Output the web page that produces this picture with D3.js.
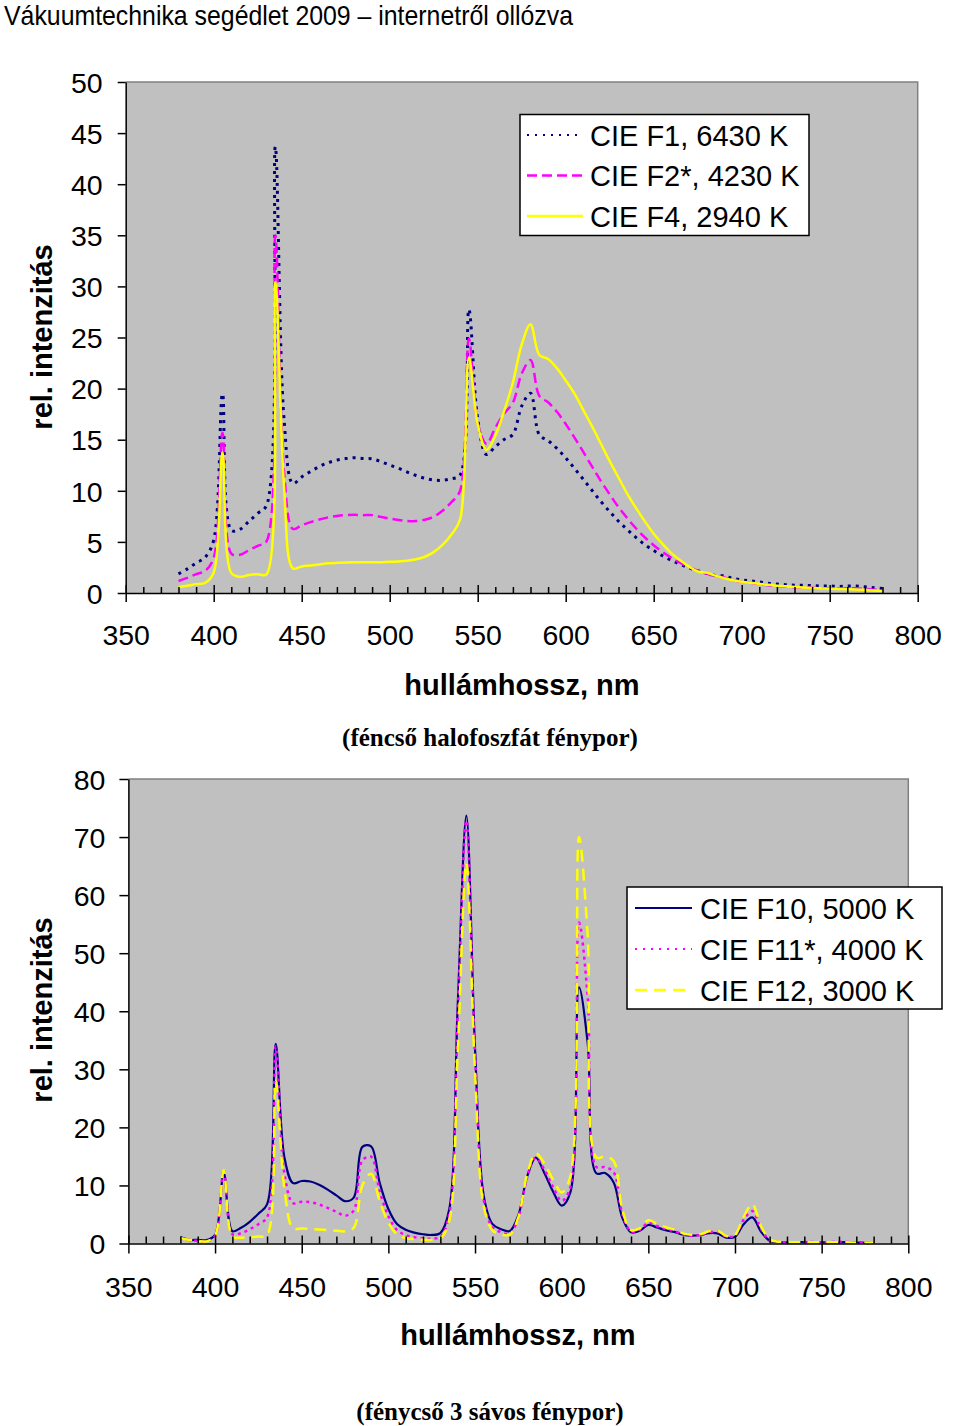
<!DOCTYPE html>
<html><head><meta charset="utf-8">
<script src="https://cdn.jsdelivr.net/npm/d3@7"></script>
<style>body{margin:0;background:#fff}svg{display:block}</style>
</head><body>
<svg id="c" width="960" height="1426"></svg>
<script>
// ---------- DATA ----------
const wavelengths = [
 380,385,390,395,400,405,410,415,420,425,
 430,435,440,445,450,455,460,465,470,475,
 480,485,490,495,500,505,510,515,520,525,
 530,535,540,545,550,555,560,565,570,575,
 580,585,590,595,600,605,610,615,620,625,
 630,635,640,645,650,655,660,665,670,675,
 680,685,690,695,700,705,710,715,720,725,
 730,735,740,745,750,755,760,765,770,775,
 780];
const xTickLabels = [350,400,450,500,550,600,650,700,750,800];
const yTicks1 = [0,5,10,15,20,25,30,35,40,45,50];
const yTicks2 = [0,10,20,30,40,50,60,70,80];

const names1 = ["CIE F1, 6430 K","CIE F2*, 4230 K","CIE F4, 2940 K"];
const f1 = [
 1.87,2.36,2.94,3.47,5.17,19.49,6.13,6.24,7.01,7.79,
 8.56,43.67,16.94,10.72,11.35,11.89,12.37,12.75,13.00,13.15,
 13.23,13.17,13.13,12.85,12.52,12.20,11.83,11.50,11.22,11.05,
 11.03,11.18,11.53,27.74,17.05,13.55,14.33,15.01,15.52,18.29,
 19.55,15.48,14.91,14.15,13.22,12.19,11.12,10.03,8.95,7.96,
 7.02,6.20,5.42,4.73,4.15,3.64,3.20,2.81,2.47,2.18,
 1.93,1.72,1.67,1.43,1.29,1.19,1.08,0.96,0.88,0.81,
 0.77,0.75,0.73,0.68,0.69,0.64,0.68,0.69,0.61,0.52,
 0.43];
const f2 = [
 1.18,1.48,1.84,2.15,3.44,15.69,3.85,3.74,4.19,4.62,
 5.06,34.98,11.81,6.27,6.63,6.93,7.19,7.40,7.54,7.62,
 7.65,7.62,7.62,7.45,7.28,7.15,7.05,7.04,7.16,7.47,
 8.04,8.88,10.01,24.88,16.64,14.59,16.16,17.56,18.62,21.47,
 22.79,19.29,18.66,17.73,16.54,15.21,13.80,12.36,10.95,9.65,
 8.40,7.32,6.31,5.43,4.68,4.02,3.45,2.96,2.55,2.19,
 1.89,1.64,1.53,1.27,1.10,0.99,0.88,0.76,0.68,0.61,
 0.56,0.54,0.51,0.47,0.47,0.43,0.46,0.47,0.40,0.33,
 0.27];
const f4 = [
 0.57,0.70,0.87,0.98,2.01,13.75,1.95,1.59,1.76,1.84,
 1.82,30.4,10.3,2.4,2.6,2.7,2.8,2.9,2.95,2.98,
 3.0,3.0,3.0,3.02,3.05,3.08,3.15,3.3,3.55,4.0,
 4.7,5.7,7.2,23.0,16.5,14.0,15.4,17.8,20.6,24.3,
 26.3,23.3,22.9,22.0,20.8,19.5,17.9,16.3,14.6,12.9,
 11.3,9.7,8.3,7.0,5.8,4.8,3.9,3.2,2.6,2.1,
 2.0,1.7,1.45,1.25,1.1,1.0,0.9,0.8,0.72,0.65,
 0.58,0.53,0.49,0.45,0.42,0.39,0.37,0.35,0.3,0.25,
 0.2];

const names2 = ["CIE F10, 5000 K","CIE F11*, 4000 K","CIE F12, 3000 K"];
const f10 = [
 1.11,0.63,0.62,0.57,1.48,12.16,2.12,2.70,3.74,5.14,
 6.75,34.39,14.86,10.40,10.76,10.67,10.11,9.27,8.29,7.29,
 7.91,16.64,16.73,10.44,5.94,3.34,2.35,1.88,1.59,1.47,
 1.80,5.71,40.98,73.69,33.61,8.24,3.38,2.47,2.14,4.86,
 11.45,14.79,12.16,8.97,6.52,8.81,44.12,34.55,12.09,12.15,
 10.52,4.43,1.95,2.19,3.19,2.77,2.29,2.00,1.52,1.35,
 1.47,1.79,1.74,1.02,1.14,3.32,4.49,2.05,0.49,0.24,
 0.21,0.21,0.24,0.24,0.21,0.17,0.21,0.22,0.17,0.12,
 0.09];
const f11 = [
 0.91,0.63,0.46,0.37,1.29,12.68,1.59,1.79,2.46,3.33,
 4.49,33.94,12.13,6.95,7.19,7.12,6.72,6.13,5.46,4.79,
 5.66,14.29,14.96,8.97,4.72,2.33,1.47,1.10,0.89,0.83,
 1.18,4.90,39.59,72.84,32.61,7.52,2.83,1.96,1.67,4.43,
 11.28,14.76,12.73,9.74,7.33,9.72,55.27,42.58,13.18,13.16,
 12.26,5.11,2.07,2.34,3.58,3.01,2.48,2.14,1.54,1.33,
 1.46,1.94,2.00,1.20,1.35,4.10,5.58,2.51,0.57,0.27,
 0.23,0.21,0.24,0.24,0.20,0.24,0.32,0.26,0.16,0.12,
 0.09];
const f12 = [
 0.96,0.64,0.45,0.37,1.35,12.6,1.2,1.0,1.1,1.2,
 1.4,28.0,9.5,2.6,2.6,2.5,2.4,2.3,2.2,2.1,
 2.7,10.0,12.0,7.3,3.6,1.6,0.95,0.75,0.65,0.6,
 0.9,3.8,33.0,65.5,29.5,6.5,2.3,1.6,1.5,4.5,
 11.8,15.5,13.8,11.0,8.8,11.5,70.0,53.0,14.8,15.0,
 14.2,5.8,2.3,2.6,4.0,3.4,2.8,2.4,1.75,1.5,
 1.6,2.1,2.2,1.3,1.5,4.6,6.8,3.0,0.7,0.3,
 0.25,0.22,0.22,0.22,0.2,0.2,0.22,0.2,0.15,0.12,
 0.1];

// ---------- DRAW ----------
const svg = d3.select("#c");
const SANS = "'Liberation Sans', Arial, sans-serif";
const SERIF = "'Liberation Serif', 'Times New Roman', serif";

svg.append("text").attr("x",4).attr("y",25)
  .attr("font-family","'Liberation Sans Narrow', 'Liberation Sans', Arial, sans-serif")
  .attr("font-size",28).attr("textLength",569).attr("lengthAdjust","spacingAndGlyphs")
  .text("Vákuumtechnika segédlet 2009 – internetről ollózva");

function drawChart(cfg){
  const x = d3.scaleLinear().domain([350,800]).range([cfg.x0,cfg.x1]);
  const y = d3.scaleLinear().domain([0,cfg.ymax]).range([cfg.y0,cfg.y1]);
  const g = svg.append("g");
  g.append("rect").attr("x",cfg.x0).attr("y",cfg.y1)
    .attr("width",cfg.x1-cfg.x0).attr("height",cfg.y0-cfg.y1)
    .attr("fill","#c0c0c0");
  g.append("path")
    .attr("d",`M${cfg.x0},${cfg.y1}H${cfg.x1}V${cfg.y0}`)
    .attr("fill","none").attr("stroke","#808080").attr("stroke-width",1.5);

  const line = d3.line().curve(d3.curveCatmullRom.alpha(0.5))
    .x((d,i)=>x(wavelengths[i])).y(d=>y(d));
  cfg.series.forEach(s=>{
    g.append("path").datum(s.values).attr("d",line)
      .attr("fill","none").attr("stroke",s.color).attr("stroke-width",s.width)
      .attr("stroke-dasharray",s.dash||null).attr("stroke-linejoin","round");
  });

  const minor = d3.range(350,801,10).filter(v=>xTickLabels.indexOf(v)<0);
  const gMinor = g.append("g").attr("transform",`translate(0,${cfg.y0})`)
    .call(d3.axisBottom(x).tickValues(minor).tickSize(-cfg.minorLen).tickFormat(""));
  gMinor.select(".domain").remove();
  gMinor.selectAll("line").attr("stroke","#000").attr("stroke-width",1.5);

  const gx = g.append("g").attr("transform",`translate(0,${cfg.y0})`)
    .call(d3.axisBottom(x).tickValues(xTickLabels).tickSizeInner(cfg.majDown).tickSizeOuter(0));
  gx.select(".domain").attr("stroke","#000").attr("stroke-width",1.5);
  gx.selectAll(".tick line").attr("y1",-cfg.majUp).attr("stroke","#000").attr("stroke-width",1.5);
  gx.selectAll(".tick text").attr("y",cfg.xLabBase).attr("dy",null)
    .attr("font-family",SANS).attr("font-size",28.5).attr("fill","#000");

  const gy = g.append("g").attr("transform",`translate(${cfg.x0},0)`)
    .call(d3.axisLeft(y).tickValues(cfg.yTicks).tickSizeInner(cfg.yTickLen).tickSizeOuter(0).tickPadding(cfg.yPad));
  gy.select(".domain").attr("stroke","#000").attr("stroke-width",1.5);
  gy.selectAll(".tick line").attr("stroke","#000").attr("stroke-width",1.5);
  gy.selectAll(".tick text").attr("dy","0.36em")
    .attr("font-family",SANS).attr("font-size",28.5).attr("fill","#000");

  g.append("text").attr("x",cfg.xTitleX).attr("y",cfg.xTitleY).attr("text-anchor","middle")
    .attr("font-family",SANS).attr("font-weight","bold").attr("font-size",29)
    .text("hullámhossz, nm");
  g.append("text").attr("transform",`translate(${cfg.yTitleX},${cfg.yTitleY}) rotate(-90)`)
    .attr("text-anchor","middle")
    .attr("font-family",SANS).attr("font-weight","bold").attr("font-size",29)
    .text("rel. intenzitás");

  const L = cfg.legend;
  g.append("rect").attr("x",L.x).attr("y",L.y).attr("width",L.w).attr("height",L.h)
    .attr("fill","#fff").attr("stroke","#000").attr("stroke-width",1.5);
  cfg.series.forEach((s,i)=>{
    const by = L.base[i];
    g.append("line").attr("x1",L.lx0).attr("x2",L.lx1).attr("y1",by-10.5).attr("y2",by-10.5)
      .attr("stroke",s.color).attr("stroke-width",s.lw||s.width).attr("stroke-dasharray",s.ldash||s.dash||null);
    g.append("text").attr("x",L.tx).attr("y",by).attr("font-family",SANS).attr("font-size",29)
      .attr("fill","#000").text(cfg.names[i]);
  });

  svg.append("text").attr("x",cfg.capX).attr("y",cfg.capY).attr("text-anchor","middle")
    .attr("font-family",SERIF).attr("font-weight","bold").attr("font-size",25)
    .text(cfg.caption);
}

drawChart({
  x0:125.7, x1:917.7, y0:593, y1:82, ymax:50, yTicks:yTicks1,
  minorLen:6, majDown:9, majUp:8, xLabBase:52, yTickLen:8, yPad:15,
  xTitleX:522, xTitleY:695, yTitleX:52, yTitleY:337,
  names:names1,
  series:[
    {values:f1, color:"#000080", width:3, dash:"3,5", lw:2, ldash:"2,6"},
    {values:f2, color:"#ff00ff", width:2.5, dash:"10,5"},
    {values:f4, color:"#ffff00", width:2.5, dash:null}
  ],
  legend:{x:520, y:114.5, w:289, h:121, lx0:527, lx1:583, tx:590, base:[145.5,186,226.5]},
  caption:"(féncső halofoszfát fénypor)", capX:490, capY:746
});

drawChart({
  x0:128.4, x1:908.3, y0:1243.5, y1:779, ymax:80, yTicks:yTicks2,
  minorLen:7, majDown:10, majUp:8, xLabBase:53.5, yTickLen:9, yPad:14,
  xTitleX:518, xTitleY:1345, yTitleX:52, yTitleY:1010,
  names:names2,
  series:[
    {values:f10, color:"#000080", width:2.2, dash:null},
    {values:f11, color:"#ff00ff", width:2.5, dash:"3,4", lw:2, ldash:"2,6"},
    {values:f12, color:"#ffff00", width:2.5, dash:"12,7"}
  ],
  legend:{x:627, y:887, w:315, h:122, lx0:635, lx1:692, tx:700, base:[918.5,959.5,1000.5]},
  caption:"(fénycső 3 sávos fénypor)", capX:490, capY:1420
});
</script>
</body></html>
